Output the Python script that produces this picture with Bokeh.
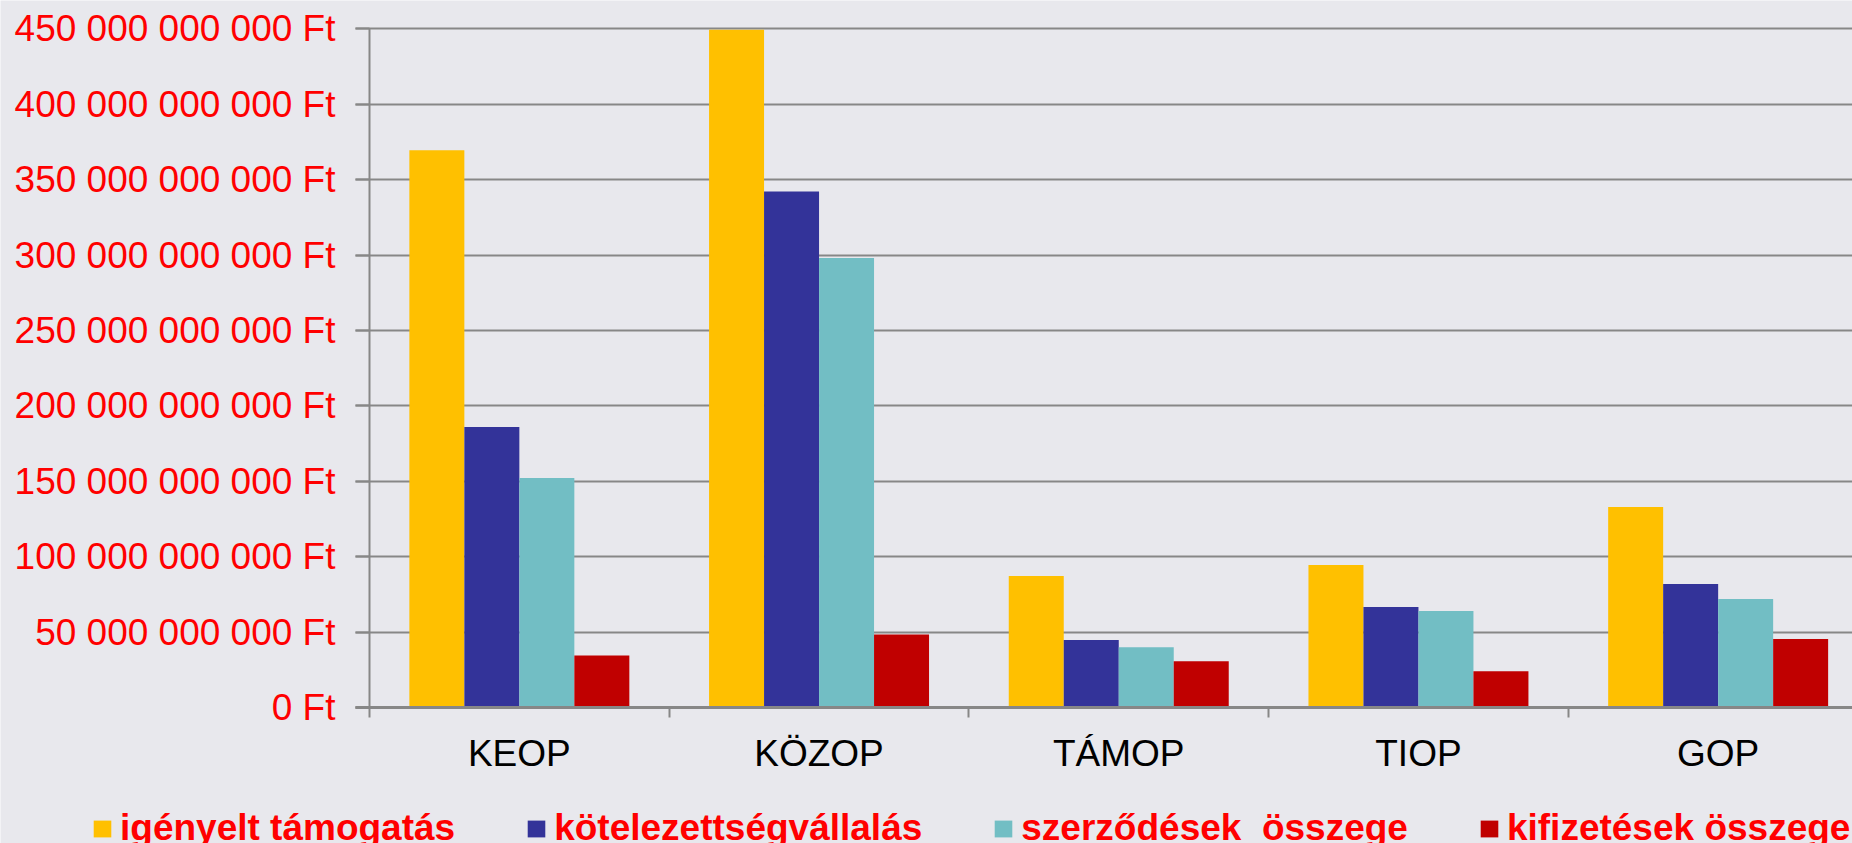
from bokeh.plotting import figure
from bokeh.models import ColumnDataSource, Range1d, FixedTicker, Legend, LegendItem
from bokeh.transform import dodge
from bokeh.embed import file_html
from bokeh.resources import INLINE

# ---- data (values in billion Ft) ----
categories = ["KEOP", "KÖZOP", "TÁMOP", "TIOP", "GOP"]
series_names = ["igényelt támogatás", "kötelezettségvállalás",
                "szerződések  összege", "kifizetések összege"]
igenyelt = [369.5, 449.3, 87.2, 94.5, 133.0]
kotelezettseg = [186.0, 342.2, 44.7, 66.6, 81.9]
szerzodesek = [152.2, 298.0, 40.0, 64.0, 71.9]
kifizetesek = [34.5, 48.4, 30.7, 24.0, 45.4]
y_tick_values = [0, 50, 100, 150, 200, 250, 300, 350, 400, 450]
y_tick_labels = ["0 Ft", "50 000 000 000 Ft", "100 000 000 000 Ft",
                 "150 000 000 000 Ft", "200 000 000 000 Ft",
                 "250 000 000 000 Ft", "300 000 000 000 Ft",
                 "350 000 000 000 Ft", "400 000 000 000 Ft",
                 "450 000 000 000 Ft"]

colors = ["#FFC000", "#333399", "#72BEC4", "#C00000"]
BG = "#E8E8ED"
GRID = "#878787"
FONT = "Liberation Sans"

centers = [i + 0.5 for i in range(len(categories))]
source = ColumnDataSource(dict(x=centers, cat=categories, s0=igenyelt,
                               s1=kotelezettseg, s2=szerzodesek, s3=kifizetesek))

# ---- layout geometry (pixels) ----
W, H = 1852, 843
axis_x_px = 369          # where x = 0 (left edge of first category)
axis_y_px = 707          # where y = 0
px_per_unit_y = 678.7 / 450.0
cat_px = 299.7
x_start = -axis_x_px / cat_px
x_end = (W - axis_x_px) / cat_px
y_start = -(H - axis_y_px) / px_per_unit_y
y_end = axis_y_px / px_per_unit_y
tick_len_x = 14 / cat_px

p = figure(width=W, height=H, output_backend="svg", toolbar_location=None,
           x_range=Range1d(x_start, x_end), y_range=Range1d(y_start, y_end),
           min_border_left=0, min_border_right=0, min_border_top=0, min_border_bottom=0,
           background_fill_color=BG, border_fill_color=BG, outline_line_color=None)

bw = 0.1835
offsets = [-1.5 * bw, -0.5 * bw, 0.5 * bw, 1.5 * bw]
renderers = []
for k, col in enumerate(["s0", "s1", "s2", "s3"]):
    r = p.vbar(x=dodge("x", offsets[k], range=p.x_range), top=col, width=bw,
               bottom=0, source=source, fill_color=colors[k], line_color=None)
    renderers.append(r)

# y axis (drawn at x = 0)
ya = p.yaxis[0]
ya.fixed_location = 0
ya.ticker = FixedTicker(ticks=y_tick_values)
ya.major_label_overrides = {v: lab for v, lab in zip(y_tick_values, y_tick_labels)}
ya.bounds = (0, 450)
ya.axis_line_color = GRID
ya.axis_line_width = 2
ya.major_tick_line_color = GRID
ya.major_tick_line_width = 2
ya.major_tick_out = 14
ya.major_tick_in = 0
ya.minor_tick_line_color = None
ya.major_label_standoff = 20
ya.major_label_text_font = FONT
ya.major_label_text_font_size = "37px"
ya.major_label_text_color = "#FF0000"

# x axis (drawn at y = 0)
xa = p.xaxis[0]
xa.fixed_location = 0
xa.ticker = FixedTicker(ticks=centers, minor_ticks=list(range(len(categories) + 1)))
xa.major_label_overrides = {c: n for c, n in zip(centers, categories)}
xa.bounds = (-tick_len_x, x_end)
xa.axis_line_color = GRID
xa.axis_line_width = 3
xa.major_tick_line_color = None
xa.major_tick_out = 0
xa.major_tick_in = 0
xa.minor_tick_line_color = GRID
xa.minor_tick_line_width = 2
xa.minor_tick_out = 10
xa.minor_tick_in = 0
xa.major_label_standoff = 15
xa.major_label_text_font = FONT
xa.major_label_text_font_size = "37px"
xa.major_label_text_color = "#000000"

p.xgrid.grid_line_color = None
p.ygrid.ticker = FixedTicker(ticks=y_tick_values)
p.ygrid.cross_bounds = (-tick_len_x, x_end)
p.ygrid.grid_line_color = GRID
p.ygrid.grid_line_width = 2

items = [LegendItem(label=n, renderers=[r]) for n, r in zip(series_names, renderers)]
legend = Legend(items=items, orientation="horizontal", location=(91, -6),
                spacing=70, label_standoff=7, glyph_width=22, glyph_height=21,
                padding=0, margin=0, border_line_color=None, background_fill_alpha=0,
                label_text_font=FONT, label_text_font_size="37px",
                label_text_font_style="bold", label_text_color="#FF0000")
p.add_layout(legend)

open("out.html", "w").write(file_html(p, INLINE))
